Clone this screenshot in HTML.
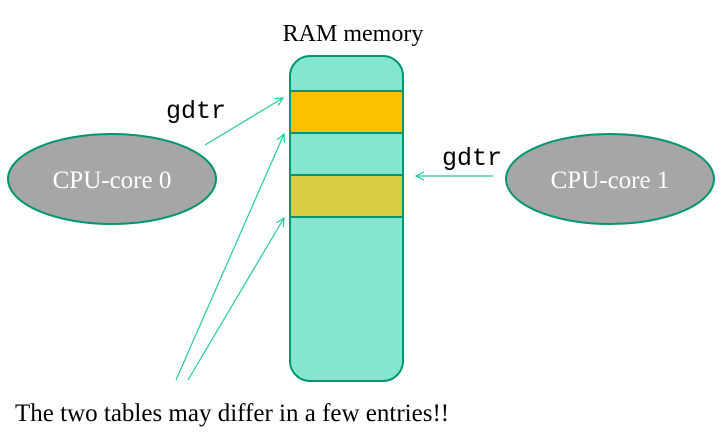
<!DOCTYPE html>
<html><head><style>body{margin:0;background:#fff}</style></head><body>
<svg width="721" height="435" xmlns="http://www.w3.org/2000/svg">
<defs><marker id="a" markerWidth="10" markerHeight="10" refX="9" refY="5" orient="auto" markerUnits="userSpaceOnUse"><path d="M1,1 L9,5 L1,9" fill="none" stroke="#22cc99" stroke-width="1.2"/></marker></defs>
<text x="353" y="41" font-family="Liberation Serif" font-size="24" text-anchor="middle">RAM memory</text>
<rect x="290" y="56" width="113" height="325" rx="20" fill="#85e6d0" stroke="#009670" stroke-width="2"/>
<rect x="290" y="91" width="113" height="42" fill="#fdc000" stroke="#009670" stroke-width="2"/>
<rect x="290" y="175" width="113" height="42" fill="#d8cc40" stroke="#009670" stroke-width="2"/>
<ellipse cx="112" cy="179" rx="104" ry="45" fill="#a6a6a6" stroke="#009670" stroke-width="2"/>
<ellipse cx="610" cy="179" rx="104" ry="45" fill="#a6a6a6" stroke="#009670" stroke-width="2"/>
<text x="112" y="188" font-family="Liberation Serif" font-size="25" fill="#fff" text-anchor="middle">CPU-core 0</text>
<text x="610" y="188" font-family="Liberation Serif" font-size="25" fill="#fff" text-anchor="middle">CPU-core 1</text>
<text x="166" y="118" font-family="Liberation Mono" font-size="25" font-weight="300">gdtr</text>
<text x="442" y="165" font-family="Liberation Mono" font-size="25" font-weight="300">gdtr</text>
<g stroke="#22cc99" stroke-width="1.2" fill="none" marker-end="url(#a)">
<line x1="205" y1="145" x2="283" y2="98"/>
<line x1="176" y1="380" x2="284" y2="134"/>
<line x1="188" y1="380" x2="284" y2="218"/>
<line x1="493" y1="176" x2="416" y2="176"/>
</g>
<text x="15" y="421" font-family="Liberation Serif" font-size="25">The two tables may differ in a few entries!!</text>
</svg>
</body></html>
